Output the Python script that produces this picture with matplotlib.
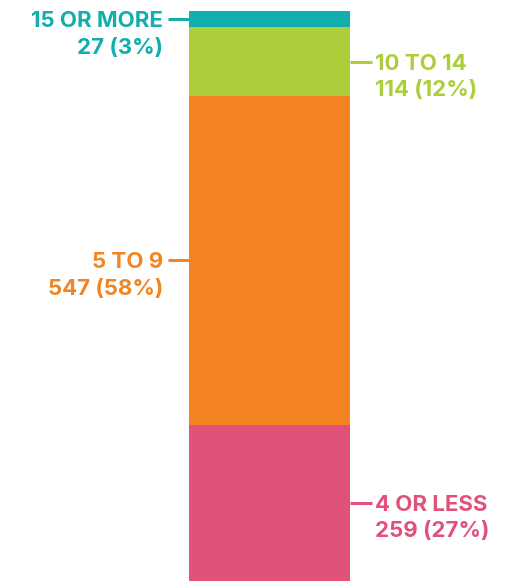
import matplotlib
matplotlib.use("Agg")
import matplotlib.pyplot as plt

categories = ["4 OR LESS", "5 TO 9", "10 TO 14", "15 OR MORE"]
counts = [259, 547, 114, 27]
percents = [27, 58, 12, 3]
colors = ["#E0527A", "#F48422", "#ACCE3A", "#12ADAD"]
sides = ["right", "left", "right", "left"]

W, H, DPI = 513, 581, 100
fig = plt.figure(figsize=(W / DPI, H / DPI), dpi=DPI)
ax = fig.add_axes([0, 0, 1, 1])
total = sum(counts)
top_px, bot_px = 11, 581
ax.set_xlim(0, W)
ax.set_ylim(0, total * H / (bot_px - top_px))
ax.axis("off")

bar_x, bar_w = 189, 161
bottom = 0
for cat, n, p, c, side in zip(categories, counts, percents, colors, sides):
    ax.bar(bar_x, n, width=bar_w, bottom=bottom, color=c, align="edge", linewidth=0)
    mid = bottom + n / 2
    if side == "left":
        x0, x1 = bar_x - 21, bar_x
        tx, ha = bar_x - 26, "right"
    else:
        x0, x1 = bar_x + bar_w, bar_x + bar_w + 22
        tx, ha = bar_x + bar_w + 25, "left"
    ax.plot([x0, x1], [mid, mid], color=c, lw=2.2, solid_capstyle="butt")
    fs = 16
    ax.annotate(cat, (tx, mid), xytext=(0, 0), textcoords="offset points",
                ha=ha, va="center_baseline", fontsize=fs, fontweight="bold",
                color=c, family="Inter")
    ax.annotate(f"{n} ({p}%)", (tx, mid), xytext=(0, -19), textcoords="offset points",
                ha=ha, va="center_baseline", fontsize=fs, fontweight="bold",
                color=c, family="Inter")
    bottom += n

fig.savefig("out.png", dpi=DPI)
